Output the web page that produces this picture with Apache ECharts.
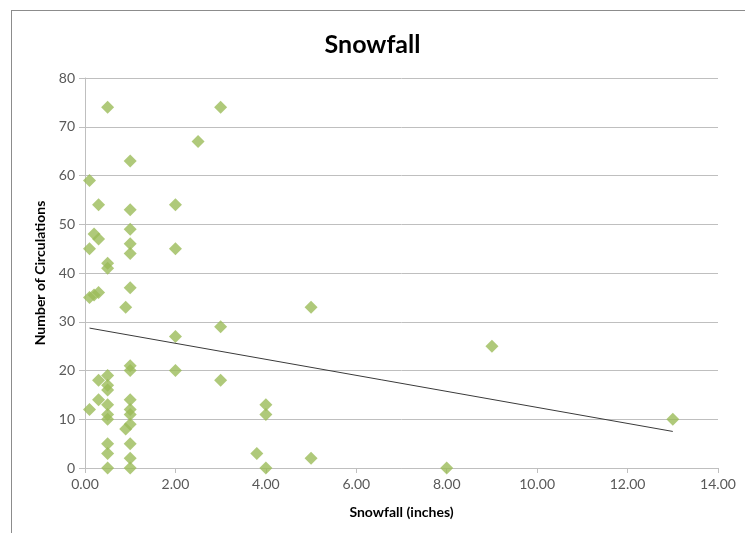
<!DOCTYPE html>
<html>
<head>
<meta charset="utf-8">
<script src="https://cdn.jsdelivr.net/npm/echarts@6/dist/echarts.min.js"></script>
<style>
html,body{margin:0;padding:0;background:#fff;}
#frame{position:absolute;left:11px;top:10px;width:760px;height:560px;border-left:1px solid #8c8c8c;border-top:1px solid #8c8c8c;}
#chart{position:absolute;left:0;top:0;width:745px;height:533px;}
</style>
</head>
<body>
<div id="frame"></div>
<div id="chart"></div>
<script>
var snowfall = [0.5, 3, 2.5, 1, 0.1, 0.3, 1, 2, 0.2, 0.3, 1, 1, 0.1, 1, 2, 0.5, 0.5,
  0.1, 0.2, 0.3, 1, 0.9, 3, 2, 2, 3, 1, 1, 0.3, 0.5, 0.5, 0.5, 0.3, 0.1, 0.5, 0.5, 0.5,
  1, 1, 1, 1, 0.9, 0.5, 0.5, 0.5, 1, 1, 1, 4, 4, 3.8, 4, 5, 5, 9, 8, 13];
var circulations = [74, 74, 67, 63, 59, 54, 53, 54, 48, 47, 49, 46, 45, 44, 45, 42, 41,
  35, 35.5, 36, 37, 33, 29, 27, 20, 18, 21, 20, 18, 19, 17, 16, 14, 12, 13, 11, 10,
  14, 12, 11, 9, 8, 5, 3, 0, 5, 2, 0, 13, 11, 3, 0, 33, 2, 25, 0, 10];
var trendX = [0.1, 13];
var trendY = [28.7, 7.5];
var xTicks = [0, 2, 4, 6, 8, 10, 12, 14];
var yTicks = [0, 10, 20, 30, 40, 50, 60, 70, 80];

var pts = snowfall.map(function (x, i) { return [x, circulations[i]]; });
var trend = trendX.map(function (x, i) { return [x, trendY[i]]; });

var font = 'Lato, "Open Sans", sans-serif';
var chart = echarts.init(document.getElementById('chart'));
chart.setOption({
  animation: false,
  title: {
    text: 'Snowfall', left: 'center', top: 27,
    textStyle: { fontFamily: font, fontSize: 25, fontWeight: 'bold', color: '#000' }
  },
  grid: { left: 85, right: 27, top: 78, bottom: 65, containLabel: false },
  xAxis: {
    type: 'value', min: xTicks[0], max: xTicks[xTicks.length - 1], interval: 2,
    name: 'Snowfall (inches)', nameLocation: 'middle', nameGap: 37,
    nameTextStyle: { fontFamily: font, fontSize: 14, fontWeight: 'bold', color: '#000' },
    axisLine: { show: true, lineStyle: { color: '#bfbfbf' } },
    axisTick: { show: true, length: 5, lineStyle: { color: '#bfbfbf' } },
    axisLabel: { fontFamily: font, fontSize: 14, color: '#595959', margin: 9,
      formatter: function (v) { return v.toFixed(2); } },
    splitLine: { show: false }
  },
  yAxis: {
    type: 'value', min: yTicks[0], max: yTicks[yTicks.length - 1], interval: 10,
    name: 'Number of Circulations', nameLocation: 'middle', nameGap: 37,
    nameTextStyle: { fontFamily: font, fontSize: 14, fontWeight: 'bold', color: '#000' },
    axisLine: { show: true, lineStyle: { color: '#bfbfbf' } },
    axisTick: { show: true, length: 6, lineStyle: { color: '#bfbfbf' } },
    axisLabel: { fontFamily: font, fontSize: 14, color: '#595959', margin: 10 },
    splitLine: { show: true, lineStyle: { color: '#bfbfbf', width: 1 } }
  },
  series: [
    {
      type: 'scatter', data: pts, symbol: 'diamond', symbolSize: 13,
      itemStyle: { color: '#9bbb59' }, z: 3
    },
    {
      type: 'line', data: trend, symbol: 'none',
      lineStyle: { color: '#3a3a3a', width: 1 }, z: 4
    }
  ]
});
</script>
</body>
</html>
